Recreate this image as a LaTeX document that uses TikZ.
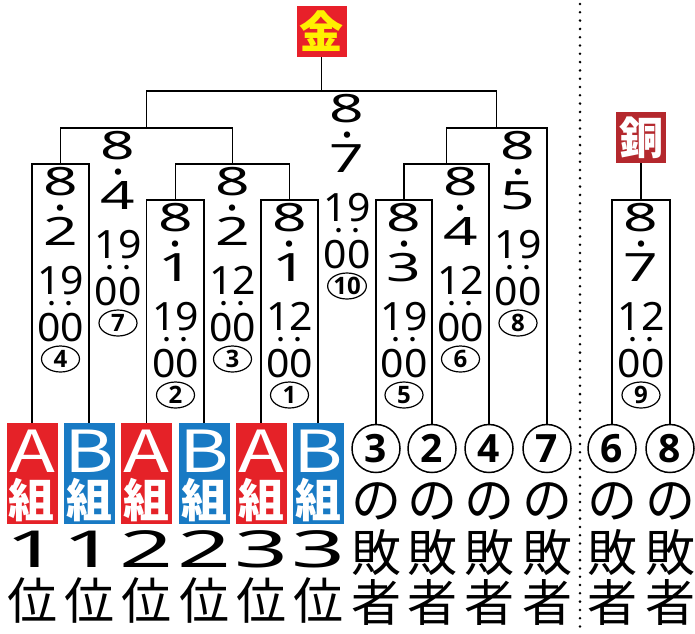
\documentclass[tikz,border=0pt]{standalone}
\usepackage{fontspec}
\usepackage{tikz}
\usetikzlibrary{shapes.geometric}
\newfontfamily\jp{Noto Sans CJK JP}
\newfontfamily\circnum{Open Sans}
\newfontfamily\numdate[FakeStretch=1.55]{Noto Sans}
\newfontfamily\numtime[FakeStretch=1.05]{Noto Sans}
\newfontfamily\numrank[FakeStretch=1.85]{Noto Sans}
\newfontfamily\jpletter[FakeStretch=1.3]{Noto Sans CJK JP}
\definecolor{ared}{RGB}{229,34,40}
\definecolor{bblue}{RGB}{24,122,196}
\definecolor{goldred}{RGB}{232,32,42}
\definecolor{goldyellow}{RGB}{255,240,0}
\definecolor{bronzered}{RGB}{180,40,45}
\tikzset{
  bracket/.style={line width=1.3pt},
  datenum/.style={font=\numdate\fontsize{39}{39}\selectfont, anchor=base, inner sep=0pt},
  datedot/.style={font=\jp\fontsize{30}{30}\selectfont, inner sep=0pt},
  timenum/.style={font=\numtime\fontsize{39}{39}\selectfont, anchor=base, inner sep=0pt},
  timedot/.style={font=\jp\fontsize{34}{34}\selectfont, inner sep=0pt},
  gameno/.style={ellipse, draw, line width=1.2pt, minimum width=38pt, minimum height=26pt, inner sep=0pt, font=\circnum\bfseries\fontsize{24}{24}\selectfont},
  teambox/.style={minimum width=51pt, minimum height=101pt, inner sep=0pt},
  grpletter/.style={font=\jpletter\fontsize{58}{58}\selectfont, text=white, anchor=base, inner sep=0pt},
  grpkanji/.style={font=\jp\bfseries\fontsize{46}{46}\selectfont, text=white, anchor=base, inner sep=0pt},
  ranknum/.style={font=\numrank\fontsize{51}{51}\selectfont, anchor=base, inner sep=0pt},
  bigkanji/.style={font=\jp\fontsize{50}{50}\selectfont, anchor=base, inner sep=0pt},
  losebox/.style={circle, draw, line width=1.5pt, minimum size=48pt, inner sep=0pt, font=\circnum\bfseries\fontsize{39}{39}\selectfont},
  medal/.style={minimum width=50pt, minimum height=51pt, inner sep=0pt, font=\jp\bfseries\fontsize{44}{44}\selectfont},
  sep/.style={line width=2.8pt, line cap=round, dash pattern=on 0pt off 8.3pt}
}
\begin{document}
\begin{tikzpicture}[x=1pt,y=-1pt]
\useasboundingbox (0,0) rectangle (695,633);
%group teams A/B
\foreach \i/\x/\col/\grp/\rk in {1/32/ared/A/1, 2/89/bblue/B/1, 3/146.5/ared/A/2, 4/204/bblue/B/2, 5/261/ared/A/3, 6/318/bblue/B/3}{
   \node[teambox, fill=\col] (t\i) at (\x,473.5) {};
   \node[grpletter] (l\i) at (\x,472) {\grp};
   \node[grpkanji] (k\i) at (\x,517) {組};
   \node[ranknum] (r\i) at (\x,567) {\rk};
   \node[bigkanji] (p\i) at (\x,619) {位};
}
%losers of earlier games
\foreach \i/\x/\n in {7/376/3, 8/432/2, 9/489/4, 10/547/7, 11/612/6, 12/670/8}{
   \node[losebox] (t\i) at (\x,448.5) {\n};
   \node[bigkanji] (o\i) at (\x,518) {の};
   \node[bigkanji] (b\i) at (\x,571) {敗};
   \node[bigkanji] (s\i) at (\x,621) {者};
}
%medals
\node[medal, fill=goldred, text=goldyellow] (gold) at (321.6,31.5) {金};
\node[medal, fill=bronzered, text=white] (bronze) at (641,137.5) {銅};
%junctions
\coordinate (m1) at (289.5,200);
\coordinate (m2) at (175.5,200);
\coordinate (m3) at (232.5,164);
\coordinate (m4) at (60.5,164);
\coordinate (m5) at (404,200);
\coordinate (m6) at (446.5,164);
\coordinate (m7) at (146.5,128);
\coordinate (m8) at (496.75,128);
\coordinate (m9) at (641,200);
\coordinate (m10) at (321.6,91);
%draw brackets
\draw[bracket] (t5.north) |- (m1) -| (t6.north);
\draw[bracket] (t3.north) |- (m2) -| (t4.north);
\draw[bracket] (m2) |- (m3) -| (m1);
\draw[bracket] (t1.north) |- (m4) -| (t2.north);
\draw[bracket] (t7.north) |- (m5) -| (t8.north);
\draw[bracket] (m5) |- (m6) -| (t9.north);
\draw[bracket] (m4) |- (m7) -| (m3);
\draw[bracket] (m6) |- (m8) -| (t10.north);
\draw[bracket] (t11.north) |- (m9) -| (t12.north);
\draw[bracket] (m7) |- (m10) -| (m8);
\draw[bracket] (m10) -- (gold);
\draw[bracket] (m9) -- (bronze);
%dates, times and game numbers
\foreach \no/\x/\y/\d/\h in {4/60.5/164/2/19, 7/118/128/4/19, 2/175.5/200/1/19, 3/232.5/164/2/12, 1/289.5/200/1/12, 10/347/91/7/19, 5/404/200/3/19, 6/460.5/164/4/12, 8/518/128/5/19, 9/641/200/7/12}{
   \node[datenum] (d\no) at (\x,\y+31) {8};
   \node[datedot] (dd\no) at (\x,\y+48) {・};
   \node[datenum] (e\no) at (\x,\y+81) {\d};
   \node[timenum] (h\no) at (\x,\y+130) {\h};
   \node[timedot] (c\no) at (\x,\y+145) {‥};
   \node[timenum] (mm\no) at (\x,\y+177) {00};
   \node[gameno] (g\no) at (\x,\y+195) {\no};
}
%bronze game separator
\draw[sep] (580,4) -- (580,633);
\end{tikzpicture}
\end{document}
